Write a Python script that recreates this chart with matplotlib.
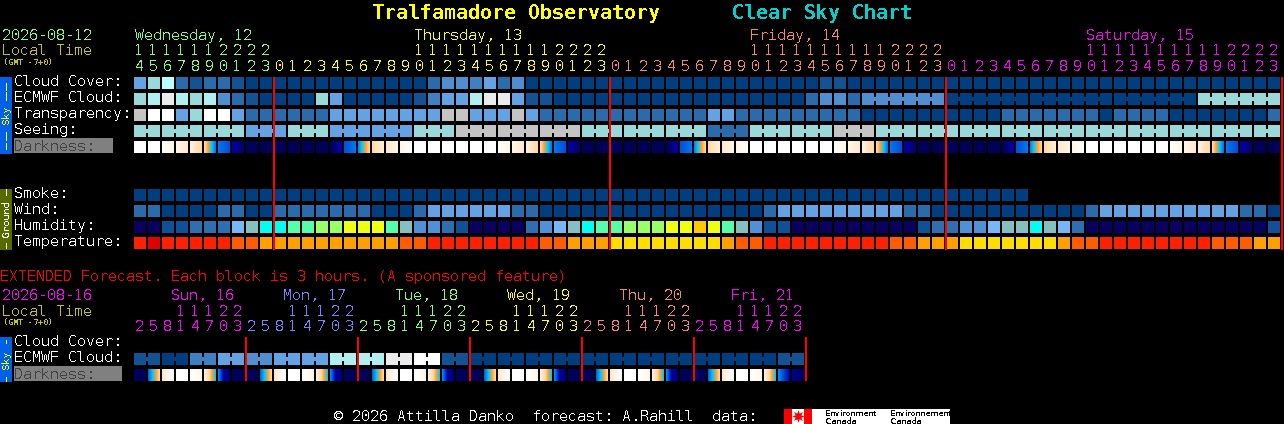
import matplotlib
matplotlib.use('Agg')
import numpy as np
import matplotlib.pyplot as plt
from matplotlib.colors import LinearSegmentedColormap

plt.rcParams['font.family'] = ['DejaVu Sans Mono']
plt.rcParams['text.antialiased'] = False
plt.rcParams['text.hinting'] = 'native'
plt.rcParams['text.hinting_factor'] = 1

# ---- data. each number is a palette level ----
cloud_cover = [5,7,9,2,1,2,2,1,0,0,
    0,0,0,0,0,0,0,0,0,0,0,2,4,4,3,5,2,4,0,0,0,0,0,0,
    0,0,0,0,0,0,0,0,0,0,0,0,0,0,0,1,1,0,0,0,0,0,0,0,
    0,0,0,0,0,0,0,0,0,0,0,0,0,0,0,0,0,0,0,0,0,0,0,0]
ecmwf_cloud = [7,8,10,8,7,8,4,2,1,0,
    0,0,0,7,5,0,0,0,0,0,1,3,5,5,8,10,10,5,1,1,0,0,0,0,
    0,0,0,0,0,0,0,0,0,0,0,0,0,0,2,4,4,2,4,4,4,4,4,4,
    0,0,0,0,0,0,0,0,0,0,0,0,0,0,0,0,0,0,7,7,7,7,7,7]
transparency = [12,11,11,5,7,11,11,5,2,2,
    2,2,2,2,5,5,5,5,5,5,5,5,12,12,5,5,5,12,5,2,2,2,2,2,
    2,2,2,2,2,2,2,5,5,2,2,2,2,2,2,2,2,2,0,0,0,0,0,0,
    0,0,0,0,2,2,2,2,2,2,2,0,2,2,2,2,0,0,0,0,0,0,0,2]
seeing = [7,7,7,7,7,7,7,7,5,5,
    5,7,7,7,5,5,5,5,5,5,7,7,7,12,12,12,12,12,12,12,12,12,7,7,
    7,7,7,7,7,7,7,2,2,2,7,7,7,7,7,7,12,12,12,7,7,7,7,7,
    7,7,7,7,7,7,7,7,7,7,7,7,7,7,7,7,7,7,7,7,7,7,7,7]
smoke = [0]*64
wind = [2,2,0,0,0,0,2,2,0,0,
    2,2,2,2,2,2,2,0,0,0,2,5,5,5,5,5,5,2,2,0,0,0,0,0,
    0,0,0,0,0,0,0,0,0,0,0,2,5,5,5,5,5,5,5,5,5,2,2,0,
    0,0,0,0,0,0,0,0,0,0,2,5,5,5,5,5,5,5,5,5,5,2,2,0]
humidity = [0,0,1,1,2,2,2,4,5,6,
    6,7,7,8,8,9,9,9,7,5,3,3,2,1,0,0,0,0,2,3,4,5,6,7,
    7,8,8,8,9,9,10,9,7,5,3,1,1,0,0,0,0,0,0,0,0,0,1,2,
    2,3,3,4,5,5,6,5,4,2,0,0,0,0,0,0,0,0,0,0,0,0,0,1]
temperature = [1,0,1,1,1,1,1,2,2,3,
    3,3,3,3,3,3,3,3,3,2,2,1,1,1,1,1,1,1,1,2,2,3,3,3,
    4,4,4,4,4,4,4,4,3,2,2,1,1,1,1,1,1,1,1,1,2,2,3,3,
    3,4,4,4,4,4,4,4,3,2,2,1,1,1,1,1,1,1,1,2,2,2,3,3]
# darkness at the left and right edge of each block, 0 = daylight, 1 = night
dark_left = [0,0,.02,.1,.15,.3,.6,.72,1,1,
    1,1,1,1,1,.64,.58,.3,.2,.1,0,0,0,0,0,0,.02,.1,.15,.3,.6,.72,1,1,
    1,1,1,1,1,.64,.58,.3,.2,.1,0,0,0,0,0,0,.02,.1,.15,.3,.6,.72,1,1,
    1,1,1,1,1,.64,.58,.3,.2,.1,0,0,0,0,0,0,.02,.1,.15,.3,.6,.72,1,1]
dark_right = [0,0,.1,.2,.3,.6,.64,.95,1,1,
    1,1,1,1,.72,.6,.3,.15,.1,.02,0,0,0,0,0,0,.1,.2,.3,.6,.64,.95,1,1,
    1,1,1,1,.72,.6,.3,.15,.1,.02,0,0,0,0,0,0,.1,.2,.3,.6,.64,.95,1,1,
    1,1,1,1,.72,.6,.3,.15,.1,.02,0,0,0,0,0,0,.1,.2,.3,.6,.64,.95,1,1]

ext_ecmwf = [1,1,0,0,3,3,5,5,4,4,5,5,5,5,8,8,8,8,10,10,11,11,1,1,
    0,0,0,0,0,0,0,0,0,0,0,0,0,0,0,0,0,0,0,0,0,0,1,1]
ext_dark_left = [1,.62,.2,0,0,.15,.58,1, 1,.62,.2,0,0,.15,.58,1, 1,.62,.2,0,0,.15,.58,1,
    1,.62,.2,0,0,.15,.58,1, 1,.62,.2,0,0,.15,.58,1, 1,.62,.2,0,0,.15,.58,.8]
ext_dark_right = [1,.3,0,0,.1,.5,.9,1, 1,.3,0,0,.1,.5,.9,1, 1,.3,0,0,.1,.5,.9,1,
    1,.3,0,0,.1,.5,.9,1, 1,.3,0,0,.1,.5,.9,1, .95,.3,0,0,.1,.5,.72,.95]

hours_main = [14,15,16,17,18,19,20,21,22,23] + list(range(24))*3
hours_ext = [2,5,8,11,14,17,20,23]*6

days_main = ['Wednesday, 12', 'Thursday, 13', 'Friday, 14', 'Saturday, 15']
days_main_x = [135, 414.5, 750, 1086]
days_ext = ['Sun, 16', 'Mon, 17', 'Tue, 18', 'Wed, 19', 'Thu, 20', 'Fri, 21']

GREEN, YEL, SALMON, MAG, PERI = '#80ff80', '#ffff00', '#ff8080', '#ff00ff', '#7f7fff'
OLIVE_TXT = '#c8c800'

sky_pal = ['#003f7f','#135393','#2a6bab','#3f80c0','#4f8fd0','#63a3e3','#77b7f7',
           '#99d9d9','#afefef','#b8ffff','#ebebeb','#ffffff','#c4c4c4']
hum_pal = ['#0a0060','#0f5096','#2f6fb0','#5090d4','#77b7f7','#85bfbf','#00ffee',
           '#55ffaa','#99ff66','#eeff11','#ffc800']
temp_pal = ['#e00000','#ff2000','#ff5c00','#ffa000','#ffdd00']
dark_cmap = LinearSegmentedColormap.from_list('dark', [
    (0,'#ffffff'),(.1,'#fff6ea'),(.2,'#ffe8c8'),(.3,'#ffd8a0'),(.4,'#ffa030'),
    (.5,'#00c8ff'),(.6,'#0078f0'),(.72,'#0000a8'),(1,'#000058')])

X0, PITCH, BW = 134, 14, 12
RH = 12

fig = plt.figure(figsize=(12.84, 4.24), dpi=100, facecolor='black')
ax = fig.add_axes([0, 0, 1, 1])
ax.set_facecolor('black')
ax.axis('off')


def col_x(i):
    return X0 + PITCH*np.asarray(i)


def txt(x, y, s, color='white', size=15, **kw):
    # size is in pixels
    ax.text(x, y, s, color=color, fontsize=size*0.72, va='baseline', **kw)


def row(vals, pal, y, groups=None):
    idx = np.arange(len(vals))
    ax.bar(col_x(idx), RH, BW, bottom=y, align='edge', linewidth=0, antialiased=False,
           color=[pal[v] for v in vals])
    if groups is None:
        return
    # blocks of one group are joined by a short strip
    start = 0
    for n in groups:
        for i in range(start, start+n-1):
            ax.bar(col_x(i)+BW, 4, PITCH-BW, bottom=y+4, align='edge', linewidth=0,
                   antialiased=False, color=pal[vals[i]])
        start += n


def dark_row(left, right, y):
    for i in range(len(left)):
        x = col_x(i)
        ax.imshow(np.linspace(left[i], right[i], BW)[None, :], cmap=dark_cmap, vmin=0, vmax=1,
                  extent=[x, x+BW, y+RH, y], aspect='auto', interpolation='nearest')


def hours(hh, colors, y_tens, y_units):
    for i, h in enumerate(hh):
        c = col_x(i) + BW/2 - 1
        if h >= 10:
            txt(c, y_tens, str(h)[0], colors[i], ha='center')
        txt(c, y_units, str(h % 10), colors[i], ha='center')


# title
txt(372, 19, 'Tralfamadore Observatory', YEL, size=20, fontweight='bold')
txt(732, 19, 'Clear Sky Chart', '#00d0d0', size=20, fontweight='bold')

# main header
txt(2, 40, '2026-08-12', GREEN)
txt(2, 55, 'Local Time', OLIVE_TXT)
txt(3, 65, '(GMT -7+0)', OLIVE_TXT, size=8)
for d, x, c in zip(days_main, days_main_x, [GREEN, YEL, SALMON, MAG]):
    txt(x, 40, d, c)
hours(hours_main, [GREEN]*10 + [YEL]*24 + [SALMON]*24 + [MAG]*24, 55, 71)

# side tabs
ax.bar(0, 77, 12, bottom=77, align='edge', color='#0060e8', linewidth=0)
ax.bar(0, 61, 12, bottom=189, align='edge', color='#556b00', linewidth=0)
ax.bar(0, 45, 12, bottom=337, align='edge', color='#0060e8', linewidth=0)
ax.text(6, 115, 'Sky', color=YEL, fontsize=7.2, rotation=90, ha='center', va='center')
ax.text(6, 219, 'Ground', color='white', fontsize=7.2, rotation=90, ha='center', va='center')
ax.text(6, 360, 'Sky', color=YEL, fontsize=7.2, rotation=90, ha='center', va='center')
ax.vlines([5.5]*4, [83, 92, 132, 143], [90, 100, 140, 149], color=YEL, linewidth=0.72, antialiased=False)
ax.vlines([5.5]*2, [189, 243], [195, 248], color='white', linewidth=0.72, antialiased=False)
ax.vlines([5.5]*2, [340, 377], [343, 381], color=YEL, linewidth=0.72, antialiased=False)

# main rows
labels_sky = ['Cloud Cover:', 'ECMWF Cloud:', 'Transparency:', 'Seeing:']
for k, lab in enumerate(labels_sky):
    txt(14, 86 + 16*k, lab)
row(cloud_cover, sky_pal, 77)
row(ecmwf_cloud, sky_pal, 93, groups=[1]*52 + [6]*5)
row(transparency, sky_pal, 109)
row(seeing, sky_pal, 125, groups=[2] + [3]*26 + [2])
ax.bar(14, 15, 99, bottom=138, align='edge', color='#808080', linewidth=0)
txt(14, 151, 'Darkness:', '#404040')
dark_row(dark_left, dark_right, 141)

labels_ground = ['Smoke:', 'Wind:', 'Humidity:', 'Temperature:']
for k, lab in enumerate(labels_ground):
    txt(14, 198 + 16*k, lab)
row(smoke, sky_pal, 189)
row(wind, sky_pal, 205)
row(humidity, hum_pal, 221)
row(temperature, temp_pal, 237)

# midnight lines
ax.vlines(col_x([10, 34, 58, 82]), 77, 250, color='#ff0000', linewidth=1.44, antialiased=False)

# extended forecast
txt(0, 281, 'EXTENDED Forecast. Each block is 3 hours. (A sponsored feature)', '#ff0000')
txt(2, 300, '2026-08-16', MAG)
txt(2, 316, 'Local Time', OLIVE_TXT)
txt(3, 325, '(GMT -7+0)', OLIVE_TXT, size=8)
ext_colors = [MAG, PERI, GREEN, YEL, SALMON, MAG]
for k, d in enumerate(days_ext):
    txt(col_x(8*k)+37, 300, d, ext_colors[k])
hours(hours_ext, [c for c in ext_colors for _ in range(8)], 316, 331)

txt(14, 346, 'Cloud Cover:')
txt(14, 362, 'ECMWF Cloud:')
row(ext_ecmwf, sky_pal, 353, groups=[2]*24)
ax.bar(14, 15, 108, bottom=366, align='edge', color='#808080', linewidth=0)
txt(14, 379, 'Darkness:', '#404040')
dark_row(ext_dark_left, ext_dark_right, 369)
ax.vlines(col_x(np.arange(1, 7)*8), 337, 381, color='#ff0000', linewidth=1.44, antialiased=False)

# footer
txt(334, 421, '\u00a9 2026 Attilla Danko  forecast: A.Rahill  data:')
ax.bar(784, 15, 166, bottom=409, align='edge', color='white', linewidth=0)
ax.bar([784, 804], 15, 7.5, bottom=409, align='edge', color='#ff0000', linewidth=0)
ax.plot([797.5], [416], marker=(8, 1, 0), ms=9, color='#ff0000', mew=0)
ax.text(825, 416.5, 'Environment', color='black', fontsize=5.8, family='DejaVu Sans')
ax.text(825, 424, 'Canada', color='black', fontsize=5.8, family='DejaVu Sans')
ax.text(890, 416.5, 'Environnement', color='black', fontsize=5.8, family='DejaVu Sans')
ax.text(890, 424, 'Canada', color='black', fontsize=5.8, family='DejaVu Sans')

ax.set_xlim(0, 1284)
ax.set_ylim(424, 0)
fig.savefig('out.png', dpi=100, facecolor='black')
